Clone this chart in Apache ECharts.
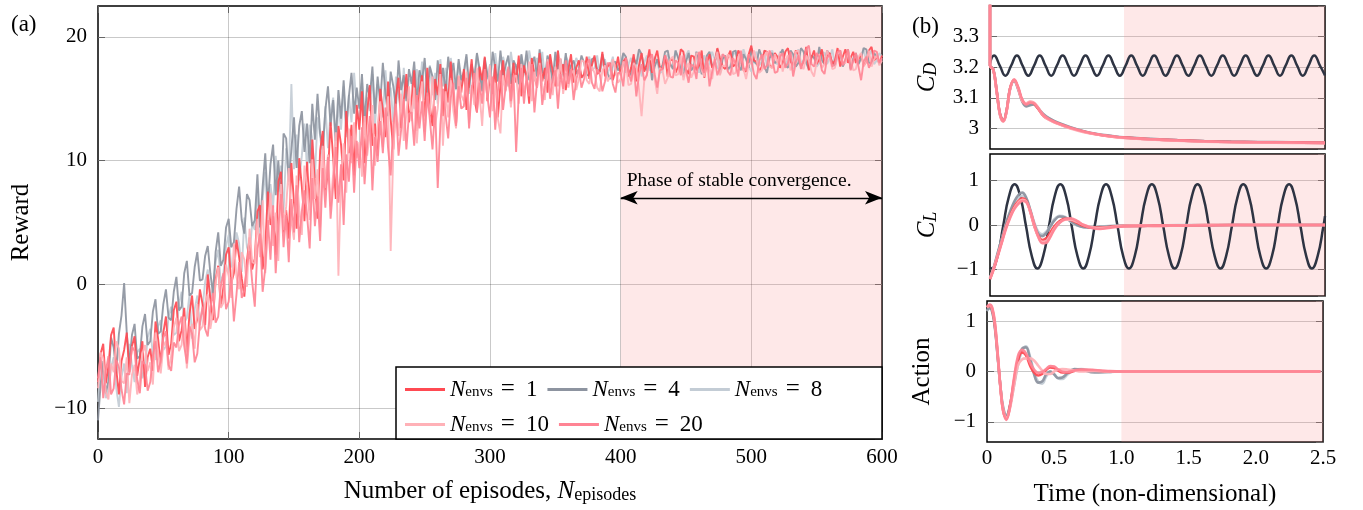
<!DOCTYPE html>
<html><head><meta charset="utf-8">
<script src="https://cdn.jsdelivr.net/npm/echarts@6/dist/echarts.min.js"></script>
<style>html,body{margin:0;padding:0;background:#fff}#c{width:1363px;height:510px}</style>
</head><body><div id="c"></div>
<script>
const FONT = '"Liberation Serif","Times New Roman","DejaVu Serif",serif';
// ---------- Panel (a): reward vs episode (one value every EP_STEP episodes) ----------
const EP_STEP = 2;
const envCounts = [1, 4, 8, 10, 20];
const rewardN1 = [
 -7.9,-5.6,-4.8,-8.0,-6.6,-4.1,-3.5,-6.9,-8.9,-6.2,-5.3,-3.9,-7.1,-5.0,-4.2,-7.4,-6.0,-4.6,-8.3,-5.9,
 -5.2,-7.0,-3.0,-4.4,-6.4,-3.9,-2.6,-5.7,-4.8,-2.1,-1.4,-4.6,-3.7,-1.9,-5.5,-2.4,-0.9,-3.6,-2.8,-0.4,
 -1.6,-3.3,0.8,-1.2,-2.9,0.4,1.5,-1.8,-0.2,2.4,3.0,0.1,0.9,3.6,2.2,0.5,-1.0,1.9,3.8,1.2,
 2.1,5.9,6.4,1.2,3.0,7.5,4.8,5.5,2.4,8.3,9.1,4.2,6.0,3.7,9.8,6.6,4.5,10.2,7.9,5.1,
 9.9,6.0,11.7,8.2,5.3,10.8,12.4,7.6,9.0,13.1,10.2,6.9,12.8,11.3,8.4,14.0,10.6,12.9,8.8,14.5,
 12.5,15.6,9.8,13.9,16.1,11.2,13.0,10.4,15.8,14.1,11.9,16.4,13.3,10.9,15.2,16.7,12.6,14.8,17.0,13.1,
 14.9,17.3,12.4,15.6,16.9,13.2,17.5,14.4,12.8,16.6,15.3,17.8,13.6,16.2,14.7,18.0,15.0,12.9,16.8,15.5,
 17.4,14.1,16.3,18.2,15.0,13.9,17.6,16.5,18.4,14.8,16.9,15.4,17.8,13.5,16.1,18.1,15.7,17.2,14.6,17.9,
 16.3,18.5,15.2,17.7,16.8,14.6,18.3,17.0,15.9,18.7,16.4,17.5,15.5,18.6,17.2,16.0,18.9,16.6,17.8,15.7,
 17.4,18.6,16.3,17.5,18.1,16.7,17.0,18.4,16.6,17.7,18.5,17.0,17.2,18.8,16.8,17.6,17.9,16.5,17.3,18.4,
 16.9,18.0,18.3,16.8,17.5,18.6,16.4,17.7,18.7,17.2,17.8,19.0,17.1,18.2,18.9,17.5,17.4,18.5,16.8,18.1,
 18.2,17.1,17.6,19.0,18.8,17.4,17.0,18.5,18.4,17.3,17.7,18.9,16.7,17.9,18.6,17.5,17.9,19.1,18.3,17.6,
 17.4,18.4,18.9,17.6,17.8,18.9,18.5,17.3,17.2,18.6,19.3,18.1,18.0,17.2,17.6,18.9,18.8,17.7,17.5,18.7,
 18.4,17.5,17.9,18.8,19.1,18.0,17.7,18.9,18.6,17.6,18.0,19.2,17.3,18.3,18.9,17.8,18.2,19.0,17.8,18.5,
 18.7,17.8,18.1,19.1,17.6,18.4,19.0,17.9,18.3,18.8,17.9,18.2,18.6,17.7,18.0,18.9,19.2,18.1,18.4,17.9,18.5];
const rewardN4 = [
 -11.0,-8.1,-6.2,-8.8,-7.8,-4.3,-5.1,-7.2,-4.0,-2.5,0.1,-3.9,-6.5,-4.1,-3.2,-6.0,-5.8,-3.4,-2.4,-4.9,
 -4.6,-2.2,-1.2,-4.0,-3.8,-1.6,-0.4,-2.7,-2.9,-0.6,0.6,-2.1,-1.8,0.9,1.9,-0.9,-0.7,1.4,2.6,0.3,
 0.4,2.3,3.1,0.9,-0.8,2.6,4.2,1.5,2.0,4.6,5.3,3.0,3.4,6.1,7.9,5.2,4.1,7.3,6.8,4.7,
 5.2,8.9,4.6,7.9,10.6,6.3,9.7,11.3,7.2,10.0,6.8,12.2,11.8,8.3,10.9,13.5,9.4,12.8,14.0,10.7,
 13.0,9.8,14.6,11.7,15.4,12.2,10.9,14.1,16.0,12.8,14.9,11.6,15.7,13.4,16.5,12.7,15.2,17.1,13.8,15.9,
 14.2,17.0,13.1,16.2,15.1,17.6,13.8,16.8,14.6,17.9,15.4,13.6,17.2,16.0,14.3,18.1,15.7,16.9,14.8,17.4,
 16.2,18.0,14.7,17.3,16.4,18.3,15.2,17.6,16.8,14.9,18.1,16.0,17.5,15.5,18.4,16.7,17.9,15.8,18.2,16.5,
 17.2,18.6,15.9,17.8,16.6,18.7,17.4,15.6,18.3,17.0,16.1,18.8,17.5,16.4,18.9,16.9,17.7,18.5,16.2,18.1,
 17.6,16.2,18.6,17.1,18.9,16.5,17.8,18.4,16.8,19.0,17.3,16.6,18.5,17.7,16.3,18.8,17.4,18.2,16.9,18.7,
 16.8,17.7,18.1,17.0,17.4,18.5,17.9,16.9,16.9,18.2,18.3,17.4,17.2,18.6,17.8,17.0,16.6,17.9,18.0,17.3,
 17.6,18.7,18.4,17.2,16.9,18.3,17.8,19.0,18.6,17.5,17.3,18.4,16.5,17.6,18.2,17.4,17.7,18.8,18.9,17.8,
 17.4,18.9,18.3,17.5,16.8,18.0,18.7,17.3,17.6,18.8,18.1,17.0,17.2,18.5,18.8,17.6,17.9,19.0,17.0,18.2,
 18.5,17.4,17.6,18.8,18.9,17.7,17.3,18.6,18.2,17.5,19.1,18.0,17.8,19.0,18.4,17.6,17.1,18.3,18.7,17.9,
 18.0,18.6,19.0,17.7,17.5,18.9,18.6,17.6,17.9,19.1,18.8,17.9,17.4,18.5,18.3,17.8,19.2,18.1,17.8,18.9,
 18.5,17.9,17.7,18.8,18.9,17.6,18.1,19.0,17.4,18.2,18.7,17.8,18.3,19.1,19.0,17.9,17.9,18.7,18.4,17.8,18.2];
const rewardN8 = [
 -9.5,-6.1,-7.0,-9.2,-8.6,-6.7,-5.9,-8.4,-9.9,-7.5,-6.4,-8.8,-4.8,-6.6,-7.9,-5.5,-5.2,-7.6,-6.8,-4.3,
 -3.6,-5.7,-6.1,-3.4,-2.9,-5.3,-5.0,-2.6,-1.8,-4.1,-3.9,-1.6,-0.6,-3.1,-2.7,-0.8,-4.4,-2.0,-0.9,-3.3,
 -1.9,0.2,1.2,-1.1,-0.3,1.8,2.8,0.1,0.9,3.1,4.0,1.4,1.6,4.2,3.3,1.0,5.4,3.0,2.4,4.9,
 4.4,7.8,3.2,6.9,9.1,5.0,8.1,6.2,10.4,7.5,9.6,5.8,11.0,8.7,16.2,9.3,12.1,8.4,10.4,13.0,
 9.2,12.9,11.8,8.6,13.5,12.0,10.1,14.4,11.0,13.9,15.1,10.3,14.6,12.5,16.0,11.9,15.3,13.1,17.1,14.2,
 13.2,16.3,12.1,15.1,14.0,17.0,12.8,16.2,15.4,13.5,17.3,14.6,15.9,13.1,16.8,15.3,14.1,17.5,15.0,16.6,
 16.4,14.2,17.4,15.6,18.0,14.9,16.8,17.7,15.3,17.1,14.6,18.2,16.0,17.5,15.1,18.3,16.5,15.7,17.9,16.1,
 16.9,18.4,15.4,17.7,16.3,18.6,17.0,15.8,18.1,16.6,17.8,15.5,18.7,17.1,16.2,18.4,17.5,16.0,18.8,17.3,
 17.8,16.1,18.5,17.3,16.6,18.9,17.7,16.4,18.3,17.0,18.8,16.7,17.9,18.5,16.5,17.6,18.9,17.2,16.8,18.4,
 18.0,17.0,17.2,18.3,17.8,16.7,16.9,18.1,18.4,17.3,17.5,18.5,17.1,17.9,18.2,17.0,17.6,18.4,16.9,17.7,
 17.9,18.6,17.1,17.8,18.3,17.2,17.6,18.7,16.8,17.9,18.5,17.3,17.4,18.4,18.0,17.1,17.2,18.3,18.6,17.7,
 17.7,18.9,18.4,17.5,17.3,18.5,18.9,17.7,17.6,18.6,17.1,18.0,18.5,17.4,17.9,18.8,18.2,17.5,17.4,18.6,
 18.1,17.3,17.5,18.6,18.7,17.8,17.9,19.0,18.3,17.6,17.2,18.4,18.8,17.7,18.0,18.9,17.6,18.5,18.9,17.9,
 17.8,18.8,18.6,17.7,18.2,18.9,17.4,18.3,19.0,17.9,18.1,19.1,17.7,18.4,18.5,17.6,17.9,18.8,18.7,17.8,
 18.3,19.0,17.6,18.4,18.8,17.7,18.0,18.9,17.5,18.3,18.6,17.8,18.2,19.1,17.9,18.5,18.9,17.8,18.1,18.7,18.4];
const rewardN10 = [
 -8.4,-5.5,-6.0,-8.7,-9.3,-6.4,-7.1,-4.6,-5.2,-7.8,-8.0,-5.9,-9.6,-7.3,-6.5,-8.9,-7.7,-5.6,-4.9,-7.0,
 -6.3,-8.1,-3.9,-5.5,-7.2,-5.0,-4.6,-6.9,-5.8,-3.5,-2.7,-5.4,-4.9,-2.6,-6.8,-4.3,-3.2,-5.2,-1.6,-3.7,
 -3.4,-1.5,-0.8,-3.6,-2.2,0.1,1.4,-1.9,-1.5,1.6,0.7,-1.1,3.3,0.6,-0.4,2.6,2.0,-0.2,4.5,1.8,
 1.7,5.3,2.2,6.8,0.9,4.6,7.4,3.1,5.8,1.9,8.1,4.4,6.3,9.4,5.1,3.6,8.8,6.1,4.0,9.6,
 8.0,5.2,10.1,6.9,9.3,4.6,11.2,7.8,10.5,6.3,9.0,12.3,0.7,8.6,11.4,7.4,12.6,9.8,13.1,10.2,
 11.5,8.7,13.6,10.4,12.2,14.5,9.6,12.9,14.8,11.1,13.4,15.2,2.7,10.8,14.1,12.0,15.4,11.6,13.8,16.0,
 13.2,15.9,11.4,14.6,16.4,12.3,15.1,13.7,16.8,12.9,14.2,17.0,11.2,15.6,13.5,16.5,14.0,12.6,16.9,15.3,
 14.8,17.2,13.0,16.1,14.5,17.5,15.4,12.8,16.6,15.1,17.7,14.0,16.3,13.4,12.2,16.9,15.6,17.4,14.3,16.7,
 16.9,14.6,17.8,15.5,16.4,18.0,14.8,17.2,15.9,17.9,16.1,14.9,18.2,16.6,15.3,17.6,16.0,18.3,15.4,17.1,
 15.9,17.0,17.3,15.7,16.6,18.1,18.0,16.5,16.2,17.6,17.1,15.9,15.6,17.3,17.7,16.4,16.8,18.2,17.4,16.3,
 16.6,18.0,17.8,16.1,16.2,17.9,17.5,15.8,13.6,16.4,16.9,18.3,18.1,16.6,15.4,17.5,17.3,16.2,16.7,18.2,
 18.4,16.9,17.0,18.5,16.5,17.4,17.9,16.7,17.2,18.7,18.6,17.3,16.8,18.1,17.4,16.6,18.0,18.8,16.9,17.7,
 17.6,18.6,18.3,17.0,17.1,18.4,18.7,17.4,16.6,17.8,17.9,18.9,18.2,17.1,17.3,18.5,18.8,17.6,17.5,18.6,
 17.9,18.7,17.2,18.1,18.5,17.3,17.7,18.8,18.9,17.6,17.4,18.5,18.1,17.2,16.8,18.0,18.6,17.5,17.8,18.9,
 18.3,17.4,17.5,18.6,18.9,17.8,17.9,18.8,18.2,17.3,17.4,18.4,18.7,17.6,18.0,18.9,17.6,18.2,18.5,17.7,18.1];
const rewardN20 = [
 -7.6,-5.9,-9.2,-7.0,-5.8,-8.9,-8.4,-6.1,-6.7,-8.5,-9.7,-7.2,-7.3,-5.0,-5.4,-7.7,-8.8,-6.2,-6.5,-8.6,
 -7.9,-5.8,-4.6,-7.1,-6.2,-4.3,-3.8,-6.5,-7.0,-4.7,-5.1,-3.3,-2.6,-5.0,-6.4,-3.4,-4.0,-6.3,-5.6,-3.1,
 -1.8,-3.6,-4.2,-1.9,-0.7,-3.1,-2.6,-0.2,0.9,-2.0,-1.4,0.6,-3.0,-0.8,1.8,-1.1,-0.5,1.5,2.7,0.2,
 -1.8,2.9,4.1,-0.6,1.3,5.2,2.0,6.4,0.9,4.7,7.3,3.0,5.6,1.8,6.9,4.2,8.0,3.4,5.9,7.6,
 5.6,2.9,8.6,4.7,7.1,3.5,9.4,6.2,10.3,5.3,8.0,11.1,6.6,9.7,4.8,10.5,8.3,12.0,7.4,11.6,
 9.4,12.7,8.1,11.3,13.6,7.6,11.9,9.9,13.2,10.6,14.3,11.0,8.8,13.0,14.6,10.4,12.5,15.0,10.9,13.8,
 13.9,11.2,15.3,12.6,14.8,11.6,15.5,13.3,10.9,14.4,7.8,12.9,15.8,13.7,11.8,15.1,16.3,12.8,16.0,14.2,
 14.4,16.7,12.6,15.8,17.1,13.9,16.3,14.6,17.4,15.2,13.5,16.8,12.5,15.6,17.3,14.1,16.0,17.6,14.8,16.9,
 10.7,15.4,17.5,14.6,16.9,15.2,17.8,13.9,16.4,17.7,14.5,16.1,18.0,15.0,16.7,17.3,14.2,17.0,15.8,18.1,
 16.2,17.4,14.9,16.5,17.5,15.9,16.6,17.8,18.2,16.3,15.8,17.4,17.0,15.6,16.4,17.9,17.8,16.2,15.5,17.1,
 17.1,16.0,18.3,17.2,16.4,17.7,15.2,16.9,17.8,16.5,16.9,18.2,18.6,17.0,15.9,17.3,17.4,18.5,18.0,16.8,
 16.7,18.1,17.9,16.9,18.5,17.3,16.3,17.8,17.6,16.6,18.8,17.5,17.1,18.4,16.0,17.2,18.2,16.9,17.5,18.6,
 18.4,17.2,16.9,18.3,17.8,16.8,18.9,17.5,17.3,18.6,18.1,17.0,16.6,18.0,18.6,17.4,17.7,18.9,18.3,17.1,
 17.2,18.4,18.7,17.5,17.9,18.8,16.8,17.9,18.5,17.4,18.1,19.0,19.3,17.8,17.6,18.7,18.4,17.3,17.0,18.3,
 18.6,17.6,17.8,18.8,18.9,17.7,18.2,19.0,17.3,18.1,18.7,17.6,16.5,18.0,18.4,17.5,18.0,18.9,18.8,17.9,18.3];
const stablePhase = [400, 600];
const arrowLevel = 7;

// ---------- Panel (b): time histories ----------
const tBaseCD = [0,0.030,0.073,0.115,0.158,0.201,0.243,0.286,0.329,0.371,0.414,0.457,0.499,0.542,0.585,0.627,0.670,0.713,0.755,0.798,0.841,0.884,0.926,0.969,1.012,1.054,1.097,1.140,1.182,1.225,1.268,1.310,1.353,1.395,1.438,1.481,1.524,1.566,1.609,1.652,1.694,1.737,1.780,1.822,1.865,1.908,1.950,1.993,2.036,2.078,2.121,2.164,2.206,2.249,2.292,2.334,2.377,2.420,2.462,2.500];
const baseCD = [3.212,
 3.238,3.205,3.172,3.205, 3.238,3.205,3.172,3.205, 3.238,3.205,3.172,3.205, 3.238,3.205,3.172,3.205,
 3.238,3.205,3.172,3.205, 3.238,3.205,3.172,3.205, 3.238,3.205,3.172,3.205, 3.238,3.205,3.172,3.205,
 3.238,3.205,3.172,3.205, 3.238,3.205,3.172,3.205, 3.238,3.205,3.172,3.205, 3.238,3.205,3.172,3.205,
 3.238,3.205,3.172,3.205, 3.238,3.205,3.172,3.205, 3.238,3.205,3.173];
const tBaseCL = [0,0.013,0.056,0.098,0.141,0.184,0.226,0.269,0.312,0.354,0.397,0.440,0.482,0.525,0.568,0.610,0.653,0.696,0.738,0.781,0.824,0.866,0.909,0.952,0.994,1.037,1.080,1.122,1.165,1.208,1.250,1.293,1.336,1.378,1.421,1.464,1.506,1.549,1.591,1.634,1.677,1.720,1.762,1.805,1.848,1.890,1.933,1.976,2.018,2.061,2.104,2.146,2.189,2.232,2.274,2.317,2.360,2.402,2.445,2.488,2.500];
const baseCL = [-0.96,
 -0.98,-0.70,-0.03,0.64,0.92,0.64,-0.03,-0.70,
 -0.98,-0.70,-0.03,0.64,0.92,0.64,-0.03,-0.70,
 -0.98,-0.70,-0.03,0.64,0.92,0.64,-0.03,-0.70,
 -0.98,-0.70,-0.03,0.64,0.92,0.64,-0.03,-0.70,
 -0.98,-0.70,-0.03,0.64,0.92,0.64,-0.03,-0.70,
 -0.98,-0.70,-0.03,0.64,0.92,0.64,-0.03,-0.70,
 -0.98,-0.70,-0.03,0.64,0.92,0.64,-0.03,-0.70,
 -0.98,-0.70,-0.03,0.20];

const tCD = [0,0,0.025,0.05,0.075,0.1,0.125,0.15,0.18,0.21,0.24,0.27,0.3,0.325,0.35,0.4,0.45,0.5,0.6,0.7,0.8,0.9,1.0,1.2,1.4,1.6,1.8,2.0,2.25,2.5];
const cdN1  = [3.60,3.205,3.191,3.121,3.046,3.025,3.061,3.131,3.157,3.132,3.092,3.080,3.086,3.082,3.070,3.040,3.027,3.017,3.001,2.989,2.980,2.974,2.970,2.965,2.961,2.958,2.956,2.955,2.954,2.953];
const cdN4  = [3.60,3.205,3.193,3.122,3.047,3.026,3.062,3.130,3.155,3.128,3.088,3.072,3.076,3.078,3.070,3.046,3.031,3.020,3.004,2.991,2.982,2.976,2.971,2.966,2.962,2.959,2.957,2.956,2.955,2.954];
const cdN8  = [3.60,3.205,3.192,3.120,3.044,3.024,3.060,3.129,3.156,3.130,3.090,3.074,3.079,3.080,3.071,3.044,3.030,3.019,3.003,2.990,2.981,2.975,2.970,2.965,2.961,2.958,2.956,2.955,2.954,2.953];
const cdN10 = [3.60,3.205,3.190,3.118,3.042,3.022,3.058,3.128,3.158,3.130,3.090,3.082,3.088,3.085,3.074,3.041,3.026,3.016,3.000,2.988,2.980,2.974,2.969,2.964,2.960,2.957,2.955,2.954,2.953,2.952];
const cdN20 = [3.60,3.205,3.192,3.120,3.045,3.024,3.060,3.130,3.160,3.135,3.095,3.078,3.084,3.083,3.072,3.043,3.028,3.018,3.002,2.990,2.981,2.975,2.970,2.965,2.961,2.958,2.956,2.955,2.954,2.953];

const tCL = [0,0.03,0.06,0.09,0.12,0.15,0.18,0.21,0.24,0.27,0.3,0.33,0.36,0.39,0.42,0.45,0.48,0.52,0.56,0.6,0.65,0.7,0.76,0.82,0.9,1.0,1.1,1.25,1.4,1.6,1.8,2.0,2.25,2.5];
const clN1  = [-1.21,-0.96,-0.66,-0.35,-0.04,0.20,0.40,0.53,0.60,0.55,0.30,-0.02,-0.25,-0.34,-0.30,-0.17,-0.03,0.09,0.14,0.12,0.05,-0.02,-0.06,-0.06,-0.04,-0.02,-0.02,-0.01,-0.01,0,0,0,0,0];
const clN4  = [-1.20,-0.93,-0.60,-0.28,0.05,0.30,0.52,0.67,0.73,0.62,0.34,0.02,-0.20,-0.25,-0.18,-0.04,0.10,0.19,0.17,0.09,0.00,-0.05,-0.06,-0.04,-0.03,-0.02,-0.02,-0.01,-0.01,-0.01,0,0,0,0];
const clN8  = [-1.21,-0.94,-0.62,-0.30,0.02,0.27,0.48,0.61,0.66,0.58,0.35,0.06,-0.15,-0.21,-0.15,-0.02,0.13,0.21,0.18,0.08,-0.01,-0.05,-0.05,-0.04,-0.02,-0.01,-0.01,-0.01,0,0,0,0,0,0];
const clN10 = [-1.20,-0.95,-0.65,-0.36,-0.05,0.18,0.37,0.50,0.57,0.53,0.30,-0.01,-0.27,-0.38,-0.36,-0.24,-0.08,0.06,0.12,0.12,0.07,0.00,-0.05,-0.07,-0.05,-0.02,-0.01,-0.02,-0.01,0,0,0.01,0,0];
const clN20 = [-1.22,-0.98,-0.68,-0.38,-0.08,0.16,0.35,0.47,0.54,0.52,0.32,0.02,-0.26,-0.41,-0.40,-0.27,-0.10,0.05,0.13,0.15,0.09,0.00,-0.07,-0.09,-0.06,-0.03,-0.02,-0.02,-0.01,-0.01,0,0,0,0];

const tAct = [0,0.02,0.04,0.06,0.08,0.1,0.12,0.145,0.17,0.2,0.23,0.26,0.29,0.32,0.35,0.38,0.41,0.44,0.47,0.5,0.53,0.56,0.6,0.65,0.7,0.8,0.9,1.0,1.2,1.5,2.0,2.48];
const actN1  = [1.28,1.30,1.22,0.88,0.30,-0.32,-0.78,-0.93,-0.70,-0.20,0.22,0.38,0.32,0.12,-0.02,-0.08,-0.05,0.03,0.08,0.07,0.02,-0.02,-0.02,0.01,0.03,0.02,0,0,0,0,0,0];
const actN4  = [1.22,1.26,1.18,0.85,0.28,-0.30,-0.72,-0.88,-0.68,-0.25,0.20,0.45,0.48,0.25,-0.05,-0.22,-0.20,-0.06,0.00,-0.06,-0.13,-0.12,-0.03,0.05,0.04,-0.02,-0.01,0,0,0,0,0];
const actN8  = [1.20,1.25,1.17,0.83,0.27,-0.30,-0.70,-0.86,-0.70,-0.30,0.12,0.40,0.50,0.30,0.00,-0.20,-0.24,-0.10,0.00,-0.05,-0.14,-0.15,-0.06,0.03,0.05,0.00,-0.01,0,0,0,0,0];
const actN10 = [1.27,1.32,1.24,0.92,0.32,-0.32,-0.75,-0.92,-0.74,-0.30,0.12,0.24,0.26,0.26,0.22,0.12,0.02,-0.05,-0.05,0.00,0.04,0.05,0.04,0.02,0.00,0.01,0,0,0,0,0,0];
const actN20 = [1.28,1.33,1.26,0.95,0.35,-0.30,-0.78,-0.96,-0.72,-0.15,0.30,0.43,0.36,0.18,0.04,-0.03,-0.01,0.05,0.11,0.10,0.04,0.00,-0.01,0.02,0.04,0.03,0.01,0,0,0,0,0];
const controlPhase = [1.0, 2.5];

// ---------- styling ----------
const colors = {1:'#ff4a52', 4:'#8d94a0', 8:'#c3ccd5', 10:'#ffb1b7', 20:'#ff8494'};
const darkColor = '#2e3443';
const drawOrder = [8, 4, 1, 10, 20];
const sname = n => 'Nenvs = ' + n;
const reward = {1:rewardN1, 4:rewardN4, 8:rewardN8, 10:rewardN10, 20:rewardN20};
const cd = {1:cdN1, 4:cdN4, 8:cdN8, 10:cdN10, 20:cdN20};
const cl = {1:clN1, 4:clN4, 8:clN8, 10:clN10, 20:clN20};
const act = {1:actN1, 4:actN4, 8:actN8, 10:actN10, 20:actN20};
const zip = (t, v) => t.map((x, i) => [x, v[i]]);
const epXY = v => v.map((y, i) => [i * EP_STEP, y]);
const minus = v => (v < 0 ? '\u2212' + Math.abs(v) : String(v));

const GRID_LINE = {color: 'rgba(0,0,0,0.21)', width: 1};
const TICK = {show: true, inside: true, length: 7, lineStyle: {color: '#666', width: 1}};
const LBL = {fontFamily: FONT, fontSize: 21, color: '#000'};
const NF = 25;
const richAxis = {
  r: {fontFamily: FONT, fontSize: NF, color: '#000', lineHeight: 26},
  n: {fontFamily: FONT, fontSize: NF, fontStyle: 'italic', color: '#000', lineHeight: 26},
  s: {fontFamily: FONT, fontSize: 18, color: '#000', lineHeight: 12, verticalAlign: 'bottom'},
  si: {fontFamily: FONT, fontSize: 18, fontStyle: 'italic', color: '#000', lineHeight: 12, verticalAlign: 'bottom'}
};

function yAxisMain(gi, min, max, split, iv, name, gap, fmt) {
  return {gridIndex: gi, type: 'value', min, max, splitNumber: split, minInterval: iv, maxInterval: iv,
    name, nameLocation: 'middle', nameRotate: 90, nameGap: gap,
    nameTextStyle: {fontFamily: FONT, fontSize: NF, color: '#000', rich: richAxis},
    axisLine: {show: false, onZero: false}, axisTick: TICK,
    axisLabel: Object.assign({margin: 11, showMinLabel: false, showMaxLabel: false, formatter: fmt}, LBL),
    splitLine: {show: true, showMinLine: false, showMaxLine: false, lineStyle: GRID_LINE}};
}
function yAxisRight(gi, min, max, split, iv) {
  return {gridIndex: gi, type: 'value', position: 'right', min, max, splitNumber: split, minInterval: iv, maxInterval: iv,
    axisLine: {show: false, onZero: false}, axisTick: TICK, axisLabel: {show: false}, splitLine: {show: false}};
}

const grids = [
  {left: 98, top: 6, width: 784, height: 433},
  {left: 990, top: 6, width: 335, height: 143},
  {left: 990, top: 154, width: 335, height: 142},
  {left: 987, top: 301, width: 336, height: 141}
].map(g => Object.assign({show: true, borderColor: '#000', borderWidth: 1.5, backgroundColor: 'transparent'}, g));

const NOAX = {show: false, onZero: false};
const xAxes = [
  {gridIndex: 0, type: 'value', min: 0, max: 600, splitNumber: 6,
   name: '{r|Number of episodes, }{n|N}{s|episodes}', nameLocation: 'middle', nameGap: 39,
   nameTextStyle: {rich: richAxis},
   axisLine: NOAX, axisTick: TICK,
   axisLabel: Object.assign({margin: 8}, LBL),
   splitLine: {show: true, showMinLine: false, showMaxLine: false, lineStyle: GRID_LINE}},
  {gridIndex: 0, type: 'value', position: 'top', min: 0, max: 600, splitNumber: 6,
   axisLine: NOAX, axisTick: TICK, axisLabel: {show: false}, splitLine: {show: false}},
  {gridIndex: 1, type: 'value', min: 0, max: 2.5, splitNumber: 5, axisLine: NOAX, axisTick: {show: false}, axisLabel: {show: false}, splitLine: {show: false}},
  {gridIndex: 2, type: 'value', min: 0, max: 2.5, splitNumber: 5, axisLine: NOAX, axisTick: {show: false}, axisLabel: {show: false}, splitLine: {show: false}},
  {gridIndex: 3, type: 'value', min: 0, max: 2.5, splitNumber: 5,
   name: 'Time (non-dimensional)', nameLocation: 'middle', nameGap: 40,
   nameTextStyle: {fontFamily: FONT, fontSize: NF, color: '#000'},
   axisLine: NOAX, axisTick: {show: false},
   axisLabel: Object.assign({margin: 6, formatter: v => (v === 0 ? '0' : v.toFixed(1))}, LBL),
   splitLine: {show: false}}
];
const yAxes = [
  yAxisMain(0, -12.5, 22.5, 4, 10, 'Reward', 64, minus),
  yAxisRight(0, -12.5, 22.5, 4, 10),
  yAxisMain(1, 2.933, 3.399, 5, 0.1, '{n|C}{si|D}', 50, v => (Math.abs(v - 3) < 1e-9 ? '3' : v.toFixed(1))),
  yAxisRight(1, 2.933, 3.399, 5, 0.1),
  yAxisMain(2, -1.6, 1.6, 3, 1, '{n|C}{si|L}', 50, minus),
  yAxisRight(2, -1.6, 1.6, 3, 1),
  yAxisMain(3, -1.4, 1.4, 3, 1, 'Action', 52, minus),
  yAxisRight(3, -1.4, 1.4, 3, 1)
];

const SHADE = {color: 'rgba(250,140,140,0.2)'};
const series = [];
series.push({type: 'line', xAxisIndex: 0, yAxisIndex: 0, data: [], silent: true, z: 1,
  markArea: {silent: true, itemStyle: SHADE, data: [[{xAxis: stablePhase[0]}, {xAxis: stablePhase[1]}]]},
  markLine: {silent: true, symbol: ['arrow', 'arrow'], symbolSize: [10, 17],
    lineStyle: {color: '#000', width: 1.3, type: 'solid'},
    label: {show: true, position: 'insideStartTop', distance: [6, 7], formatter: 'Phase of stable convergence.',
      fontFamily: FONT, fontSize: 19.5, color: '#000'},
    data: [[{coord: [stablePhase[0], arrowLevel]}, {coord: [stablePhase[1], arrowLevel]}]]}});
[1, 2, 3].forEach(g => series.push({type: 'line', xAxisIndex: g + 1, yAxisIndex: g * 2, data: [], silent: true, z: 1,
  markArea: {silent: true, itemStyle: SHADE, data: [[{xAxis: controlPhase[0]}, {xAxis: controlPhase[1]}]]}}));

drawOrder.forEach((n, k) => {
  series.push({name: sname(n), type: 'line', xAxisIndex: 0, yAxisIndex: 0, data: epXY(reward[n]),
    symbol: 'none', z: 3 + k, lineStyle: {color: colors[n], width: 1.9, opacity: 0.92}, itemStyle: {color: colors[n]}});
});
series.push({name: 'Uncontrolled CD', type: 'line', xAxisIndex: 2, yAxisIndex: 2, data: zip(tBaseCD, baseCD),
  symbol: 'none', smooth: 0.5, z: 3, lineStyle: {color: darkColor, width: 2.5}});
series.push({name: 'Uncontrolled CL', type: 'line', xAxisIndex: 3, yAxisIndex: 4, data: zip(tBaseCL, baseCL),
  symbol: 'none', smooth: 0.5, z: 3, lineStyle: {color: darkColor, width: 2.5}});
const panels = [[2, 2, tCD, cd], [3, 4, tCL, cl], [4, 6, tAct, act]];
panels.forEach(([xi, yi, t, src]) => {
  drawOrder.forEach((n, k) => {
    series.push({name: sname(n), type: 'line', xAxisIndex: xi, yAxisIndex: yi, data: zip(t, src[n]),
      symbol: 'none', smooth: 0.4, z: 4 + k, lineStyle: {color: colors[n], width: 2.6, opacity: 0.95}, itemStyle: {color: colors[n]}});
  });
});

const chart = echarts.init(document.getElementById('c'), null, {renderer: 'canvas'});
chart.setOption({
  animation: false,
  backgroundColor: '#fff',
  grid: grids,
  xAxis: xAxes,
  yAxis: yAxes,
  legend: {
    data: envCounts.map(sname), left: 405, top: 377, width: 490, padding: 0,
    itemGap: 10, itemWidth: 40, itemHeight: 3, icon: 'rect', z: 6,
    formatter: name => '{n|N}{s|envs}{q|=}{e|' + name.split('= ')[1] + '}',
    textStyle: {width: 105, fontFamily: FONT, fontSize: 22, color: '#000',
      rich: {
        n: {fontFamily: FONT, fontSize: 23, fontStyle: 'italic', color: '#000', lineHeight: 20},
        s: {fontFamily: FONT, fontSize: 15, color: '#000', lineHeight: 8, verticalAlign: 'bottom'},
        q: {fontFamily: FONT, fontSize: 25, color: '#000', lineHeight: 20, padding: [0, 11, 0, 8]},
        e: {fontFamily: FONT, fontSize: 23, color: '#000', lineHeight: 20}
      }}
  },
  graphic: [
    {type: 'rect', z: 5, silent: true, shape: {x: 396, y: 367, width: 486, height: 72},
     style: {fill: '#fff', stroke: '#000', lineWidth: 1.5}},
    {type: 'text', left: 11, top: 13, z: 5, style: {text: '(a)', font: '23px ' + FONT, fill: '#000'}},
    {type: 'text', left: 912, top: 15, z: 5, style: {text: '(b)', font: '23px ' + FONT, fill: '#000'}}
  ],
  series
});
</script></body></html>
